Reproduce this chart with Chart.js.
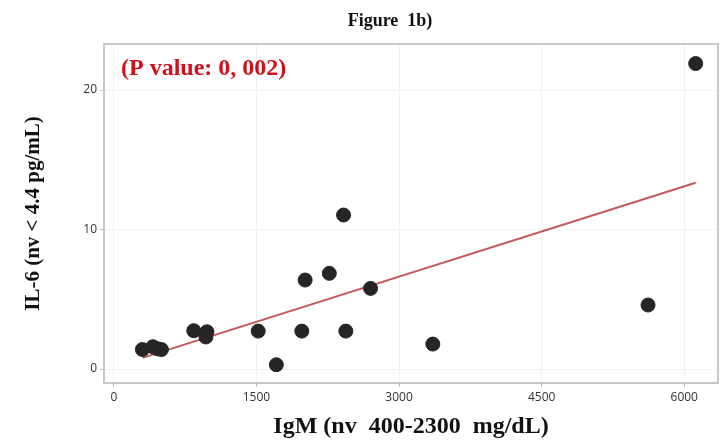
<!DOCTYPE html>
<html>
<head>
<meta charset="utf-8">
<script src="https://cdn.jsdelivr.net/npm/chart.js@4"></script>
<style>
  html, body { margin: 0; padding: 0; background: #fff; }
  #wrap { width: 726px; height: 441px; }
</style>
</head>
<body>
<div id="wrap"><canvas id="grafico" width="726" height="441"></canvas></div>
<script>
// valores
const igm = [300, 410, 460, 500, 840, 968, 979, 1518, 1709, 1977, 2012, 2266, 2416, 2440, 2700, 3355, 5619, 6120];
const il6 = [1.4, 1.6, 1.45, 1.4, 2.75, 2.3, 2.67, 2.72, 0.31, 2.72, 6.38, 6.86, 11.04, 2.72, 5.78, 1.79, 4.59, 21.9];

// reta de regressão (extremos)
const retaX = [300, 6120];
const retaY = [0.8, 13.35];

const xTicks = [0, 1500, 3000, 4500, 6000];
const yTicks = [0, 10, 20];

const serif = "'Liberation Serif', 'Times New Roman', serif";

// moldura + textos extras
const extras = {
  id: 'extras',
  afterDraw(chart) {
    const ctx = chart.ctx;
    const a = chart.chartArea;
    ctx.save();
    ctx.strokeStyle = '#c8c8c8';
    ctx.lineWidth = 2;
    ctx.strokeRect(a.left, a.top, a.right - a.left, a.bottom - a.top);

    ctx.fillStyle = '#111';
    ctx.font = 'bold 18px ' + serif;
    ctx.textAlign = 'center';
    ctx.textBaseline = 'alphabetic';
    ctx.fillText('Figure  1b)', 390, 26);

    ctx.fillStyle = '#d0101a';
    ctx.font = 'bold 24px ' + serif;
    ctx.textAlign = 'left';
    ctx.fillText('(P value: 0, 002)', 121, 75);
    ctx.restore();
  }
};

new Chart(document.getElementById('grafico'), {
  type: 'scatter',
  data: {
    datasets: [{
      label: 'IL-6',
      data: igm.map((x, i) => ({ x: x, y: il6[i] })),
      backgroundColor: '#252525',
      borderColor: '#252525',
      pointRadius: 7,
      pointHoverRadius: 7
    }, {
      label: 'reta',
      type: 'line',
      data: retaX.map((x, i) => ({ x: x, y: retaY[i] })),
      borderColor: '#c45a58',
      borderWidth: 2,
      pointRadius: 0,
      fill: false
    }]
  },
  options: {
    responsive: false,
    animation: false,
    layout: { padding: { top: 44, right: 3, left: 0, bottom: 0 } },
    plugins: {
      legend: { display: false },
      tooltip: { enabled: false }
    },
    scales: {
      x: {
        type: 'linear',
        min: -104,
        max: 6355,
        afterBuildTicks: s => { s.ticks = xTicks.map(v => ({ value: v })); },
        afterFit: s => { s.height = 58; },
        border: { display: false },
        grid: { color: 'rgba(0,0,0,0.05)', tickColor: '#bbb', tickLength: 4 },
        ticks: {
          color: '#333',
          padding: 3,
          maxRotation: 0,
          font: { family: "'Open Sans', sans-serif", size: 12 },
          callback: v => String(v)
        },
        title: {
          display: true,
          text: 'IgM (nv  400-2300  mg/dL)',
          color: '#111',
          padding: { top: 0, bottom: 0 },
          font: { family: serif, size: 24, weight: 'bold', lineHeight: 1.2 }
        }
      },
      y: {
        min: -1,
        max: 23.3,
        afterBuildTicks: s => { s.ticks = yTicks.map(v => ({ value: v })); },
        afterFit: s => { s.width = 104; },
        border: { display: false },
        grid: { color: 'rgba(0,0,0,0.05)', tickColor: '#bbb', tickLength: 4 },
        ticks: {
          color: '#333',
          padding: 3,
          font: { family: "'Open Sans', sans-serif", size: 12 },
          callback: v => String(v)
        },
        title: {
          display: true,
          text: 'IL-6 (nv < 4.4 pg/mL)',
          color: '#111',
          padding: { top: 21, bottom: 0 },
          font: { family: serif, size: 21, weight: 'bold', lineHeight: 1.2 }
        }
      }
    }
  },
  plugins: [extras]
});
</script>
</body>
</html>
